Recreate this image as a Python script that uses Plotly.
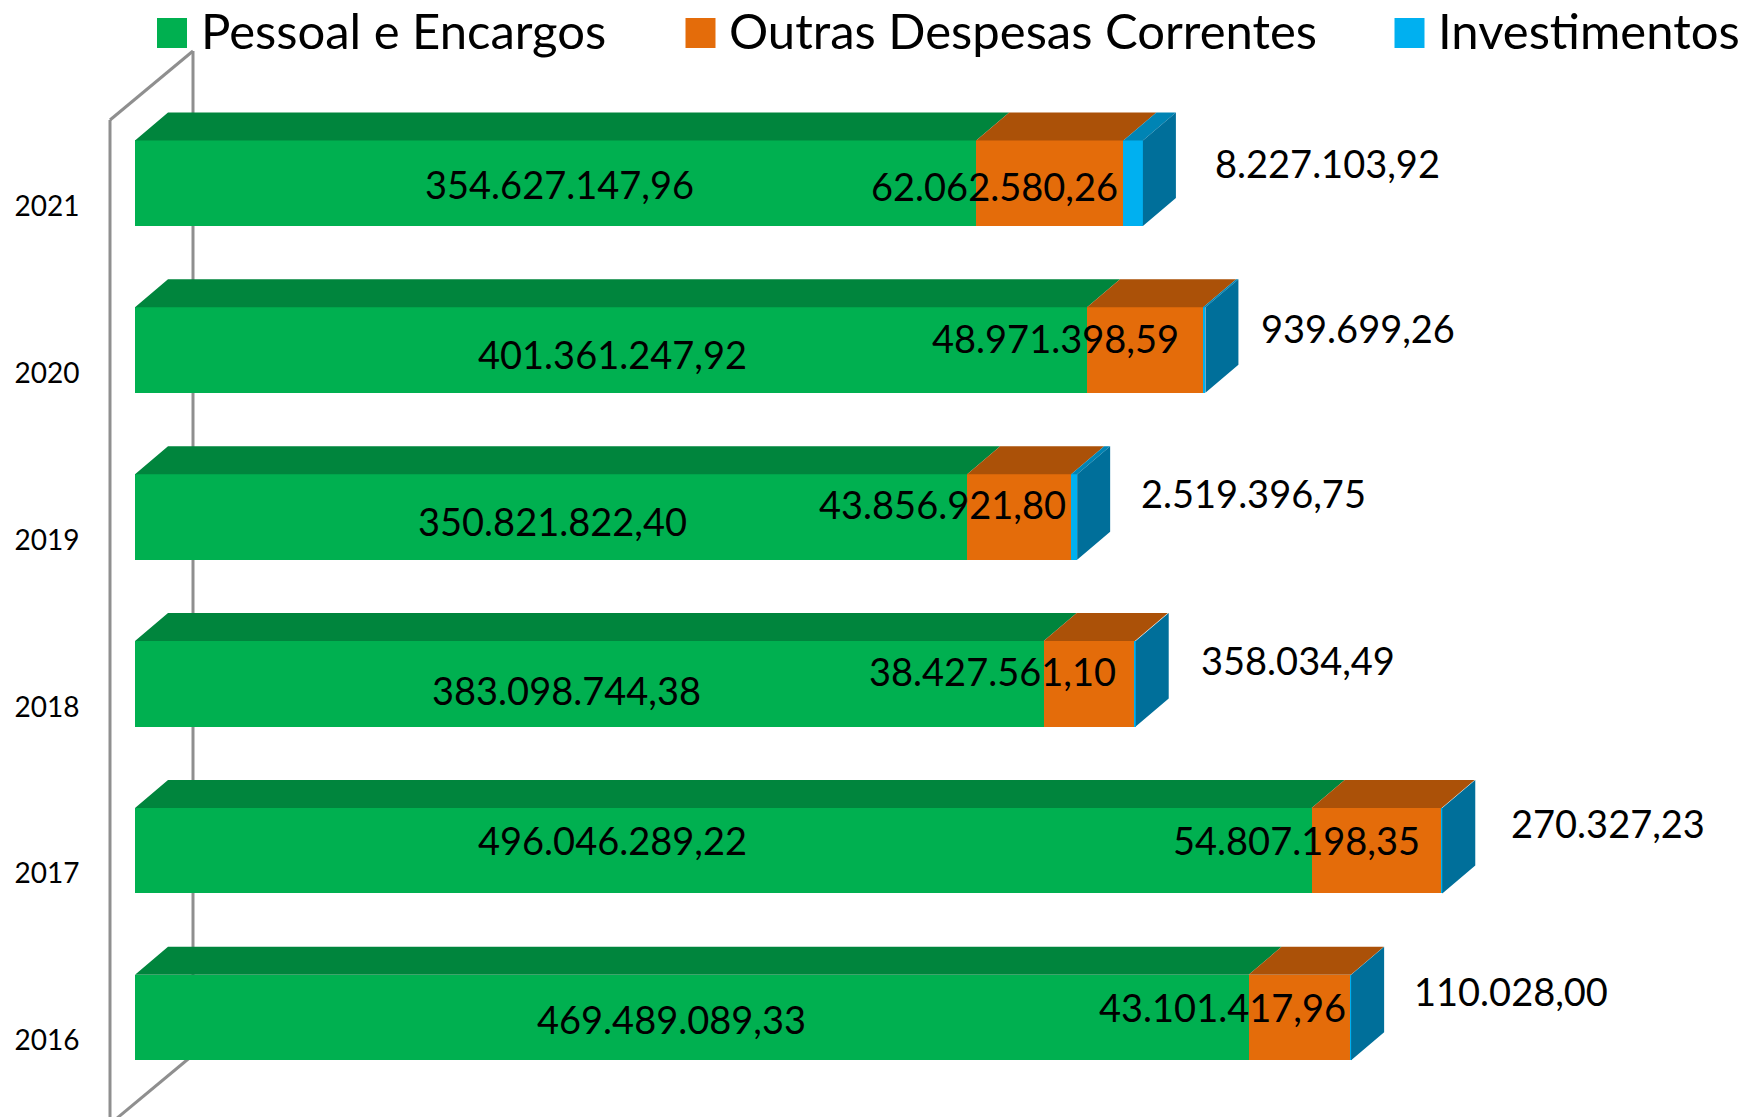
import plotly.graph_objects as go

# ---- data -------------------------------------------------------------
years = ["2016", "2017", "2018", "2019", "2020", "2021"]
pessoal = [469489089.33, 496046289.22, 383098744.38, 350821822.40, 401361247.92, 354627147.96]
outras = [43101417.96, 54807198.35, 38427561.10, 43856921.80, 48971398.59, 62062580.26]
invest = [110028.00, 270327.23, 358034.49, 2519396.75, 939699.26, 8227103.92]
series_names = ["Pessoal e Encargos", "Outras Despesas Correntes", "Investimentos"]

# ---- styling ----------------------------------------------------------
FONT = "Lato"
FRONT = ["#00B050", "#E46C0A", "#00B0F0"]
TOP = ["#00853D", "#AB5108", "#0084B4"]
SIDE = "#006F9A"
WALL = "#8F8F8F"

W, H = 1748, 1117
MARGIN_L = 88
PX_PER_UNIT_X = 2.372e-6       # pixels per currency unit
ZERO_PX = 135                  # pixel of the value axis zero
PX_PER_CAT = 166.85
CAT0_PX = 1017.5               # pixel of the centre of the first category
BAR_WIDTH = 0.5125
DEPTH_X = 33 / PX_PER_UNIT_X   # 3-D depth of the bars
DEPTH_Y = 28 / PX_PER_CAT


def fx(px):
    return (px - ZERO_PX) / PX_PER_UNIT_X


def fy(px):
    return (CAT0_PX - px) / PX_PER_CAT


def br(v):
    return f"{v:,.2f}".replace(",", "X").replace(".", ",").replace("X", ".")


idx = list(range(len(years)))
fig = go.Figure()

# front faces
for name, vals, col in zip(series_names, [pessoal, outras, invest], FRONT):
    fig.add_trace(go.Bar(y=idx, x=vals, name=name, orientation="h", width=BAR_WIDTH,
                         marker=dict(color=col, line=dict(width=0)), showlegend=False,
                         hovertemplate="%{x:,.2f}<extra>" + name + "</extra>"))

# top faces (one per series) and right side faces
for s, vals in enumerate([pessoal, outras, invest]):
    xs, ys = [], []
    for i in idx:
        start = sum(v[i] for v in [pessoal, outras, invest][:s])
        end = start + vals[i]
        t = i + BAR_WIDTH / 2
        xs += [start, start + DEPTH_X, end + DEPTH_X, end, start, None]
        ys += [t, t + DEPTH_Y, t + DEPTH_Y, t, t, None]
    fig.add_trace(go.Scatter(x=xs, y=ys, mode="lines", fill="toself", fillcolor=TOP[s],
                             line=dict(width=0), hoverinfo="skip", showlegend=False))
xs, ys = [], []
for i in idx:
    end = pessoal[i] + outras[i] + invest[i]
    t, b = i + BAR_WIDTH / 2, i - BAR_WIDTH / 2
    xs += [end, end + DEPTH_X, end + DEPTH_X, end, end, None]
    ys += [t, t + DEPTH_Y, b + DEPTH_Y, b, t, None]
fig.add_trace(go.Scatter(x=xs, y=ys, mode="lines", fill="toself", fillcolor=SIDE,
                         line=dict(width=0), hoverinfo="skip", showlegend=False))

# value labels, moved by hand in the original chart
green_shift = [(-20, -1.5), (-111, 11), (-23, -6.4), (1, -3.8), (1, -3.4), (4, -0.8)]
orange_shift = [(-77, 10.7), (-80, 11), (-97, 12.8), (-77, 13), (-90, 12), (-55, -2.75)]
blue_shift = [(160, 26.5), (166, 28), (163, 24), (179, 24), (154, 22), (194, 20)]
annotations = []
for s, (vals, shifts) in enumerate(zip([pessoal, outras, invest], [green_shift, orange_shift, blue_shift])):
    for i in idx:
        start = sum(v[i] for v in [pessoal, outras, invest][:s])
        annotations.append(dict(x=start + vals[i] / 2, y=i, xref="x", yref="y", text=br(vals[i]),
                                showarrow=False, xshift=shifts[i][0], yshift=shifts[i][1],
                                xanchor="center", yanchor="middle",
                                font=dict(family=FONT, size=38, color="#000000")))

# legend row
legend_swatch_px = [157, 685.5, 1394.5]
legend_text_px = [199, 727, 1436]
shapes = []
for name, col, sx, tx in zip(series_names, FRONT, legend_swatch_px, legend_text_px):
    shapes.append(dict(type="rect", xref="paper", yref="paper",
                       x0=(sx - MARGIN_L) / (W - MARGIN_L), x1=(sx + 30 - MARGIN_L) / (W - MARGIN_L),
                       y0=1 - 48 / H, y1=1 - 18 / H, fillcolor=col, line=dict(width=0), layer="above"))
    annotations.append(dict(x=(tx - MARGIN_L) / (W - MARGIN_L), y=1 - 30 / H, xref="paper", yref="paper",
                            text=name, showarrow=False, xanchor="left", yanchor="middle",
                            font=dict(family=FONT, size=49, color="#000000")))

# side wall of the 3-D frame, behind the bars
wall_style = dict(type="line", xref="x", yref="y", layer="below", line=dict(color=WALL, width=3))
shapes += [
    dict(x0=fx(110), x1=fx(110), y0=fy(120), y1=fy(1124), **wall_style),
    dict(x0=fx(110), x1=fx(193), y0=fy(120), y1=fy(51), **wall_style),
    dict(x0=fx(193), x1=fx(193), y0=fy(51), y1=fy(1055), **wall_style),
    dict(x0=fx(110), x1=fx(193), y0=fy(1124), y1=fy(1055), **wall_style),
]

fig.update_layout(
    width=W, height=H, margin=dict(l=MARGIN_L, r=0, t=0, b=0),
    paper_bgcolor="#FFFFFF", plot_bgcolor="#FFFFFF",
    barmode="stack", showlegend=False, shapes=shapes, annotations=annotations,
    xaxis=dict(range=[fx(MARGIN_L), fx(W)], visible=False, fixedrange=True),
    yaxis=dict(range=[fy(H), fy(0)], tickmode="array",
               tickvals=[i - 23 / PX_PER_CAT for i in idx], ticktext=years,
               showgrid=False, zeroline=False, showline=False, ticks="outside", ticklen=2,
               tickcolor="rgba(0,0,0,0)", tickfont=dict(family=FONT, size=28, color="#000000"),
               fixedrange=True, automargin=False),
)

fig.write_html("out.html", post_script="document.body.style.margin='0';",
               config=dict(displayModeBar=False))
